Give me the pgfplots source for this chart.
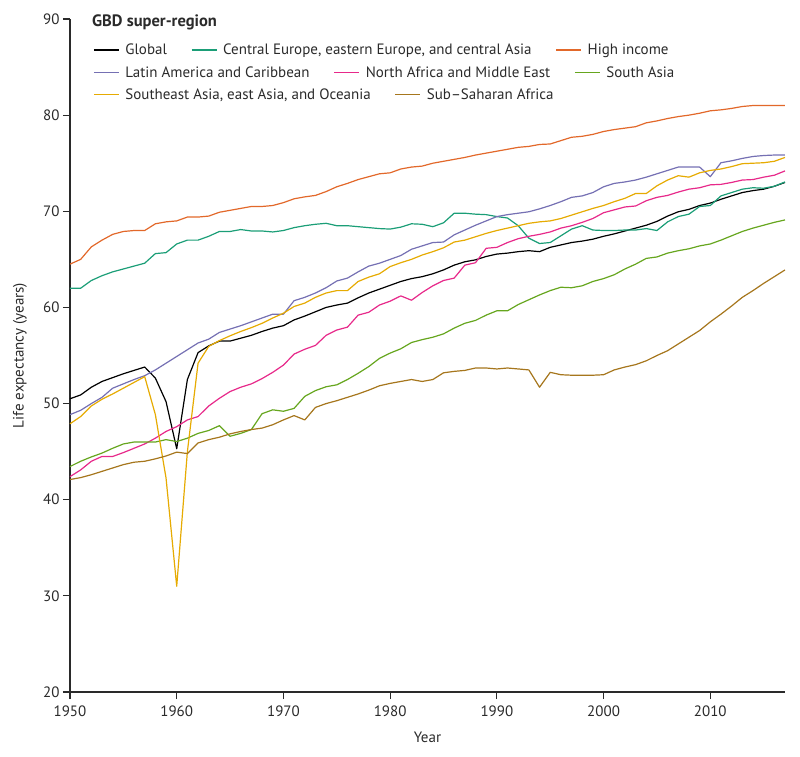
\documentclass[border=0pt]{standalone}
\usepackage{pgfplots}
\pgfplotsset{compat=1.18}
\usepackage{pgfplotstable}
\usepackage{fontspec}
\setmainfont{PT Sans}

\definecolor{cglob}{HTML}{000000}
\definecolor{cce}{HTML}{1B9E77}
\definecolor{chi}{HTML}{E2682A}
\definecolor{cla}{HTML}{7570B3}
\definecolor{cna}{HTML}{E7298A}
\definecolor{csa}{HTML}{66A61E}
\definecolor{cse}{HTML}{E6AB02}
\definecolor{css}{HTML}{A6761D}
\definecolor{axgray}{HTML}{2A2A2A}

% life expectancy by GBD super-region, 1950-2017
\pgfplotstableread{
year glob  ce    hi    la    na    sa    se    ss
1950 50.5  62.0  64.5  48.85 42.4  43.45 47.9  42.1
1951 50.9  62.0  65.0  49.3  43.1  44.0  48.65 42.3
1952 51.7  62.8  66.3  50.0  44.0  44.45 49.75 42.6
1953 52.3  63.3  67.0  50.65 44.5  44.85 50.45 42.95
1954 52.7  63.7  67.6  51.6  44.5  45.35 51.0  43.3
1955 53.1  64.0  67.9  52.05 44.9  45.8  51.6  43.65
1956 53.45 64.3  68.0  52.5  45.35 46.0  52.2  43.9
1957 53.8  64.6  68.0  52.9  45.8  46.0  52.8  44.0
1958 52.65 65.6  68.7  53.5  46.4  46.0  48.85 44.25
1959 50.2  65.7  68.9  54.2  47.1  46.25 42.25 44.55
1960 45.3  66.6  69.0  54.9  47.6  46.05 31.0  44.95
1961 52.5  67.0  69.4  55.6  48.3  46.4  45.0  44.8
1962 55.3  67.0  69.4  56.3  48.65 46.9  54.2  45.9
1963 56.0  67.4  69.5  56.7  49.75 47.2  55.95 46.25
1964 56.5  67.9  69.9  57.4  50.55 47.7  56.55 46.5
1965 56.5  67.9  70.1  57.75 51.25 46.6  57.05 46.85
1966 56.8  68.1  70.3  58.1  51.7  46.9  57.5  47.1
1967 57.1  67.95 70.5  58.5  52.05 47.3  57.9  47.3
1968 57.5  67.95 70.5  58.9  52.6  48.95 58.35 47.45
1969 57.85 67.85 70.6  59.3  53.25 49.35 58.9  47.8
1970 58.1  68.0  70.9  59.3  54.0  49.2  59.4  48.3
1971 58.7  68.3  71.3  60.7  55.15 49.5  60.1  48.75
1972 59.1  68.5  71.5  61.05 55.65 50.75 60.45 48.3
1973 59.55 68.65 71.65 61.5  56.05 51.35 61.05 49.6
1974 60.0  68.75 72.05 62.05 57.1  51.75 61.5  50.0
1975 60.25 68.5  72.55 62.75 57.65 51.95 61.75 50.3
1976 60.45 68.5  72.9  63.05 57.95 52.5  61.75 50.65
1977 61.0  68.4  73.3  63.7  59.2  53.15 62.7  51.0
1978 61.5  68.3  73.6  64.3  59.5  53.85 63.15 51.4
1979 61.9  68.2  73.9  64.6  60.25 54.7  63.5  51.85
1980 62.3  68.15 74.0  65.0  60.65 55.25 64.25 52.1
1981 62.7  68.35 74.4  65.4  61.2  55.7  64.65 52.3
1982 63.0  68.7  74.6  66.05 60.75 56.35 65.0  52.5
1983 63.2  68.65 74.7  66.4  61.55 56.65 65.45 52.3
1984 63.5  68.4  75.0  66.75 62.25 56.9  65.8  52.5
1985 63.9  68.8  75.2  66.8  62.8  57.25 66.2  53.2
1986 64.4  69.8  75.4  67.55 63.05 57.85 66.8  53.35
1987 64.75 69.8  75.6  68.05 64.4  58.35 67.0  53.45
1988 64.95 69.7  75.85 68.55 64.65 58.65 67.35 53.7
1989 65.3  69.65 76.05 69.0  66.15 59.2  67.7  53.7
1990 65.55 69.45 76.25 69.45 66.25 59.65 68.0  53.6
1991 65.65 69.3  76.45 69.65 66.75 59.65 68.25 53.7
1992 65.8  68.5  76.65 69.8  67.15 60.3  68.5  53.6
1993 65.9  67.2  76.75 69.95 67.4  60.8  68.75 53.5
1994 65.8  66.65 76.95 70.25 67.6  61.3  68.9  51.7
1995 66.25 66.75 77.0  70.6  67.85 61.75 69.0  53.25
1996 66.5  67.45 77.35 71.0  68.25 62.1  69.25 53.0
1997 66.75 68.15 77.7  71.45 68.5  62.05 69.6  52.95
1998 66.9  68.5  77.8  71.6  68.85 62.25 69.95 52.95
1999 67.1  68.05 78.0  71.95 69.25 62.7  70.3  52.95
2000 67.4  68.0  78.3  72.55 69.85 63.0  70.6  53.0
2001 67.65 68.0  78.5  72.9  70.15 63.4  71.0  53.5
2002 67.95 68.05 78.65 73.05 70.45 64.0  71.35 53.8
2003 68.25 68.05 78.8  73.25 70.55 64.5  71.85 54.05
2004 68.55 68.2  79.2  73.55 71.1  65.1  71.85 54.45
2005 68.95 68.0  79.4  73.9  71.45 65.25 72.65 55.0
2006 69.5  68.9  79.65 74.25 71.65 65.65 73.25 55.5
2007 69.95 69.45 79.85 74.6  72.0  65.9  73.7  56.2
2008 70.2  69.7  80.0  74.6  72.3  66.1  73.55 56.9
2009 70.6  70.5  80.2  74.6  72.45 66.4  74.0  57.6
2010 70.85 70.6  80.45 73.6  72.75 66.6  74.25 58.5
2011 71.25 71.6  80.55 75.05 72.8  67.0  74.4  59.3
2012 71.6  71.95 80.7  75.25 73.0  67.45 74.65 60.15
2013 71.95 72.3  80.9  75.5  73.25 67.9  74.95 61.05
2014 72.15 72.45 81.0  75.7  73.3  68.25 75.0  61.75
2015 72.3  72.4  81.0  75.8  73.55 68.55 75.05 62.5
2016 72.6  72.6  81.0  75.85 73.75 68.85 75.2  63.2
2017 73.0  73.05 81.0  75.85 74.2  69.1  75.6  63.9
}\lifetable

\newcommand{\txt}{\fontsize{15}{18}\selectfont}

\pgfplotsset{
  base/.style={scale only axis, width=715pt, height=673pt,
    at={(0pt,0pt)}, anchor=south west},
  rowlegend/.style={base, hide axis, xmin=0, xmax=1, ymin=0, ymax=1,
    legend columns=-1,
    legend image code/.code={\draw[##1] (0pt,0pt) -- (25pt,0pt);},
    legend style={draw=none, fill=none, inner sep=0pt, anchor=west,
      font=\txt, text=axgray, nodes={inner sep=0pt},
      /tikz/every odd column/.append style={column sep=6pt},
      /tikz/every even column/.append style={column sep=24pt}}},
}

\begin{document}
\begin{tikzpicture}
\path[use as bounding box] (-70pt,-64pt) rectangle (730pt,692pt);

\begin{axis}[base,
  xmin=1950, xmax=2017, ymin=20, ymax=90,
  axis lines=left,
  axis line style={-, axgray, line width=1.1pt},
  xtick={1950,1960,...,2010}, ytick={20,30,...,90},
  tick style={axgray, line width=1.1pt},
  tick align=outside, major tick length=7pt,
  /pgf/number format/1000 sep={},
  /pgf/number format/assume math mode=true,
  ticklabel style={font=\txt, text=axgray},
  xticklabel style={yshift=-3pt},
  xlabel={Year}, ylabel={Life expectancy (years)},
  label style={font=\txt, text=axgray},
  xlabel style={at={(axis description cs:0.5,-0.067)}, anchor=center},
  ylabel style={at={(axis description cs:-0.07,0.5)}, anchor=center},
  every axis plot/.append style={line width=1.2pt, line join=round, no markers},
  clip=false,
]
\addplot[cglob] table[x=year, y=glob] {\lifetable};
\addplot[cce]   table[x=year, y=ce]   {\lifetable};
\addplot[chi]   table[x=year, y=hi]   {\lifetable};
\addplot[cla]   table[x=year, y=la]   {\lifetable};
\addplot[cna]   table[x=year, y=na]   {\lifetable};
\addplot[csa]   table[x=year, y=sa]   {\lifetable};
\addplot[cse]   table[x=year, y=se]   {\lifetable};
\addplot[css]   table[x=year, y=ss]   {\lifetable};
\end{axis}

% legend, laid out row by row as in the original
\begin{axis}[rowlegend, legend style={at={(axis description cs:0.0322,0.9540)}}]
\addlegendimage{cglob, line width=1.2pt}\addlegendentry{Global}
\addlegendimage{cce, line width=1.2pt}\addlegendentry{Central Europe, eastern Europe, and central Asia}
\addlegendimage{chi, line width=1.2pt}\addlegendentry{High income}
\end{axis}
\begin{axis}[rowlegend, legend style={at={(axis description cs:0.0322,0.9200)}}]
\addlegendimage{cla, line width=1.2pt}\addlegendentry{Latin America and Caribbean}
\addlegendimage{cna, line width=1.2pt}\addlegendentry{North Africa and Middle East}
\addlegendimage{csa, line width=1.2pt}\addlegendentry{South Asia}
\end{axis}
\begin{axis}[rowlegend, legend style={at={(axis description cs:0.0322,0.8875)}}]
\addlegendimage{cse, line width=1.2pt}\addlegendentry{Southeast Asia, east Asia, and Oceania}
\addlegendimage{css, line width=1.2pt}\addlegendentry{Sub--Saharan Africa}
\end{axis}

% legend heading
\node[anchor=base west, text=axgray, inner sep=0pt,
  font=\fontsize{16.5}{19}\selectfont\bfseries] at (22pt,665pt) {GBD super-region};
\end{tikzpicture}
\end{document}
